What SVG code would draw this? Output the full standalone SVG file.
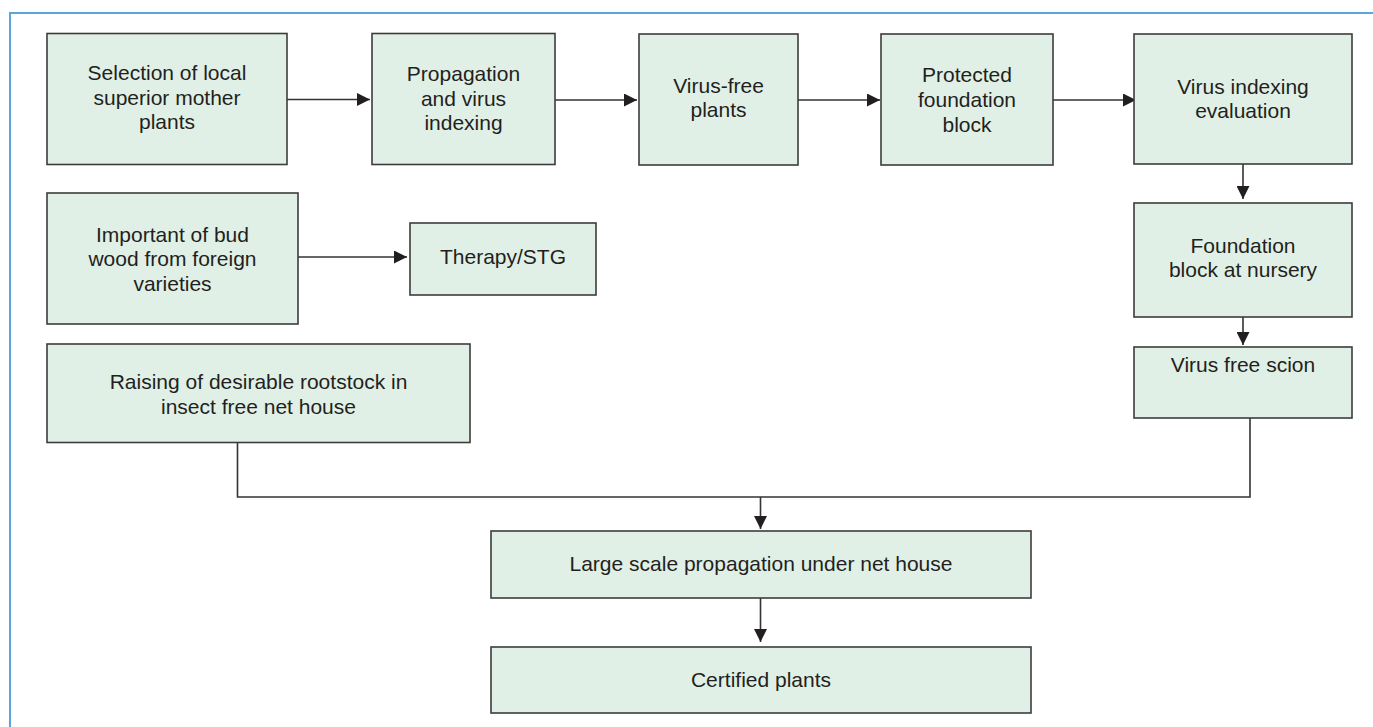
<svg xmlns="http://www.w3.org/2000/svg" width="1373" height="727" viewBox="0 0 1373 727">
<style>
.box{fill:#e1f0e6;stroke:#3c3c3c;stroke-width:1.6}
.t{font-family:"Liberation Sans",Arial,sans-serif;font-size:21px;fill:#231f20;text-anchor:middle}
.c{fill:none;stroke:#333;stroke-width:1.6}
</style>
<defs>
<marker id="ah" viewBox="0 0 13 13" refX="13" refY="6.5" markerWidth="13" markerHeight="13" orient="auto" markerUnits="userSpaceOnUse">
<path d="M0,0 L13,6.5 L0,13 Z" fill="#231f20"/>
</marker>
</defs>
<rect x="10" y="13" width="1400" height="800" fill="#fff" stroke="#5aa5dc" stroke-width="2"/>
<g id="connectors">
<line class="c" x1="287" y1="99.5" x2="370" y2="99.5" marker-end="url(#ah)"/>
<line class="c" x1="555" y1="100" x2="637" y2="100" marker-end="url(#ah)"/>
<line class="c" x1="798" y1="100" x2="880" y2="100" marker-end="url(#ah)"/>
<line class="c" x1="1053" y1="100" x2="1136" y2="100" marker-end="url(#ah)"/>
<line class="c" x1="1243" y1="164" x2="1243" y2="199" marker-end="url(#ah)"/>
<line class="c" x1="1243" y1="317" x2="1243" y2="345" marker-end="url(#ah)"/>
<line class="c" x1="298" y1="257" x2="407" y2="257" marker-end="url(#ah)"/>
<polyline class="c" points="237.5,443 237.5,497 1250,497 1250,418"/>
<line class="c" x1="760.5" y1="497" x2="760.5" y2="529" marker-end="url(#ah)"/>
<line class="c" x1="760.5" y1="598" x2="760.5" y2="642" marker-end="url(#ah)"/>
</g>
<g id="n1"><rect class="box" x="47" y="33.5" width="240" height="131"/>
<text class="t" x="167" y="80">Selection of local</text><text class="t" x="167" y="105">superior mother</text><text class="t" x="167" y="129">plants</text></g>
<g id="n2"><rect class="box" x="372" y="33.5" width="183" height="131"/>
<text class="t" x="463.5" y="81">Propagation</text><text class="t" x="463.5" y="106">and virus</text><text class="t" x="463.5" y="130">indexing</text></g>
<g id="n3"><rect class="box" x="639" y="34" width="159" height="131"/>
<text class="t" x="718.5" y="93">Virus-free</text><text class="t" x="718.5" y="117">plants</text></g>
<g id="n4"><rect class="box" x="881" y="34" width="172" height="131"/>
<text class="t" x="967" y="82">Protected</text><text class="t" x="967" y="107">foundation</text><text class="t" x="967" y="132">block</text></g>
<g id="n5"><rect class="box" x="1134" y="34" width="218" height="130"/>
<text class="t" x="1243" y="94">Virus indexing</text><text class="t" x="1243" y="118">evaluation</text></g>
<g id="n6"><rect class="box" x="1134" y="203" width="218" height="114"/>
<text class="t" x="1243" y="253">Foundation</text><text class="t" x="1243" y="277">block at nursery</text></g>
<g id="n7"><rect class="box" x="1134" y="347" width="218" height="71"/>
<text class="t" x="1243" y="372">Virus free scion</text></g>
<g id="n8"><rect class="box" x="47" y="193" width="251" height="131"/>
<text class="t" x="172.5" y="242">Important of bud</text><text class="t" x="172.5" y="266">wood from foreign</text><text class="t" x="172.5" y="291">varieties</text></g>
<g id="n9"><rect class="box" x="410" y="223" width="186" height="72"/>
<text class="t" x="503" y="264">Therapy/STG</text></g>
<g id="n10"><rect class="box" x="47" y="344" width="423" height="98.5"/>
<text class="t" x="258.5" y="389">Raising of desirable rootstock in</text><text class="t" x="258.5" y="414">insect free net house</text></g>
<g id="n11"><rect class="box" x="491" y="531" width="540" height="67"/>
<text class="t" x="761" y="571">Large scale propagation under net house</text></g>
<g id="n12"><rect class="box" x="491" y="647" width="540" height="66"/>
<text class="t" x="761" y="687">Certified plants</text></g>
</svg>
